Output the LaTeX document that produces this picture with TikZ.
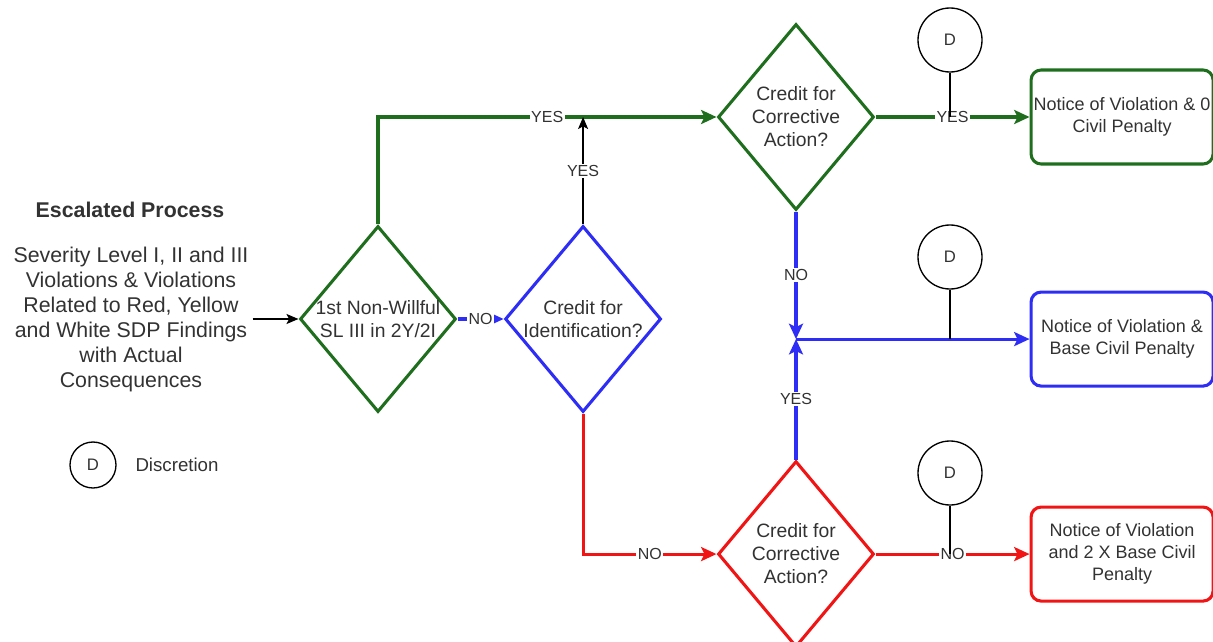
\documentclass[tikz,border=0pt]{standalone}
\usepackage{fontspec}
\setmainfont{Liberation Sans}
\usetikzlibrary{arrows.meta,shapes.geometric,positioning}

\definecolor{ngreen}{RGB}{30,110,30}
\definecolor{nblue}{RGB}{45,45,245}
\definecolor{nred}{RGB}{240,20,20}
\definecolor{ink}{RGB}{50,50,50}

\tikzstyle{decision} = [diamond, draw, line width=2.3pt, aspect=0.84,
    minimum width=117pt, minimum height=139.5pt, inner sep=-3pt,
    align=center, text=ink, font=\fontsize{14.5}{17.25}\selectfont]
\tikzstyle{outcome} = [rectangle, draw, line width=2.3pt, rounded corners=7.5pt,
    minimum width=136.5pt, minimum height=70.5pt, inner sep=1pt,
    align=center, text=ink, font=\fontsize{13.5}{16.5}\selectfont]
\tikzstyle{disc} = [circle, draw, line width=1pt, minimum size=48pt,
    inner sep=0pt, text=ink, font=\fontsize{12.5}{15}\selectfont]
\tikzstyle{lbl} = [fill=white, inner sep=1pt, text=ink,
    font=\fontsize{12}{14}\selectfont]
\tikzstyle{flow} = [->, line width=2.3pt]

\begin{document}
\begin{tikzpicture}[x=0.75pt,y=-0.75pt,
                    >={Stealth[length=11.5pt,width=10.5pt,inset=2.5pt]}]
  \useasboundingbox (0,0) rectangle (1213,642);

  \node[text=ink, font=\bfseries\fontsize{16}{19}\selectfont] (title) at (130,210) {Escalated Process};
  \node[align=center, text=ink, font=\fontsize{16}{18.75}\selectfont, inner sep=3pt]
       (scope) at (131,319) {Severity Level I, II and III\\Violations \& Violations\\Related to Red, Yellow\\and White SDP Findings\\with Actual\\Consequences};

  \node[decision, draw=ngreen] (d1) at (378,319) {1st Non-Willful\\SL III in 2Y/2I};
  \node[decision, draw=nblue]  (d2) [right=34.5pt of d1] {Credit for\\Identification?};
  \node[decision, draw=ngreen] (d3) at (796,117) {Credit for\\Corrective\\Action?};
  \node[decision, draw=nred]   (d4) [below=186pt of d3] {Credit for\\Corrective\\Action?};

  \node[outcome, draw=ngreen] (n1) [right=115.5pt of d3] {Notice of Violation \& 0\\Civil Penalty};
  \node[outcome, draw=nblue]  (n2) [below=93.75pt of n1] {Notice of Violation \&\\Base Civil Penalty};
  \node[outcome, draw=nred]   (n3) [right=115.5pt of d4] {Notice of Violation\\and 2 X Base Civil\\Penalty};

  \node[disc] (D1) at (950,40)  {D};
  \node[disc] (D2) at (950,257) {D};
  \node[disc] (D3) at (950,473) {D};
  \node[disc, minimum size=34.5pt] (key) at (93,465) {D};
  \node[text=ink, font=\fontsize{14}{16}\selectfont] (keytext) at (177,465) {Discretion};

  \coordinate (top) at (d2.north |- d3.west);
  \coordinate (mid) at (d3.south |- n2.west);
  \coordinate (t1) at (D1.south |- n1.west);
  \coordinate (t2) at (D2.south |- n2.west);
  \coordinate (t3) at (D3.south |- n3.west);

  \draw[->, line width=1.2pt, >={Stealth[length=9pt,width=7.5pt,inset=2pt]}] (scope.east) -- (d1.west);
  \draw[flow, ngreen] (d1.north) |- node[lbl, pos=0.75] {YES} (d3.west);
  \draw[->, line width=1.2pt, >={Stealth[length=9pt,width=7.5pt,inset=2pt]}] (d2.north) -- node[lbl] {YES} (top);
  \draw[flow, nblue] (d1.east) -- node[lbl] {NO} (d2.west);
  \draw[flow, ngreen] (d3.east) -- node[lbl] {YES} (n1.west);
  \draw[flow, nblue] (d3.south) -- node[lbl] {NO} (mid);
  \draw[flow, nblue] (d4.north) -- node[lbl] {YES} (mid);
  \draw[flow, nblue] (mid) -- (n2.west);
  \draw[flow, nred] (d2.south) |- node[lbl, pos=0.75] {NO} (d4.west);
  \draw[flow, nred] (d4.east) -- node[lbl] {NO} (n3.west);

  \draw[line width=1pt] (D1.south) -- (t1);
  \draw[line width=1pt] (D2.south) -- (t2);
  \draw[line width=1pt] (D3.south) -- (t3);
\end{tikzpicture}
\end{document}
